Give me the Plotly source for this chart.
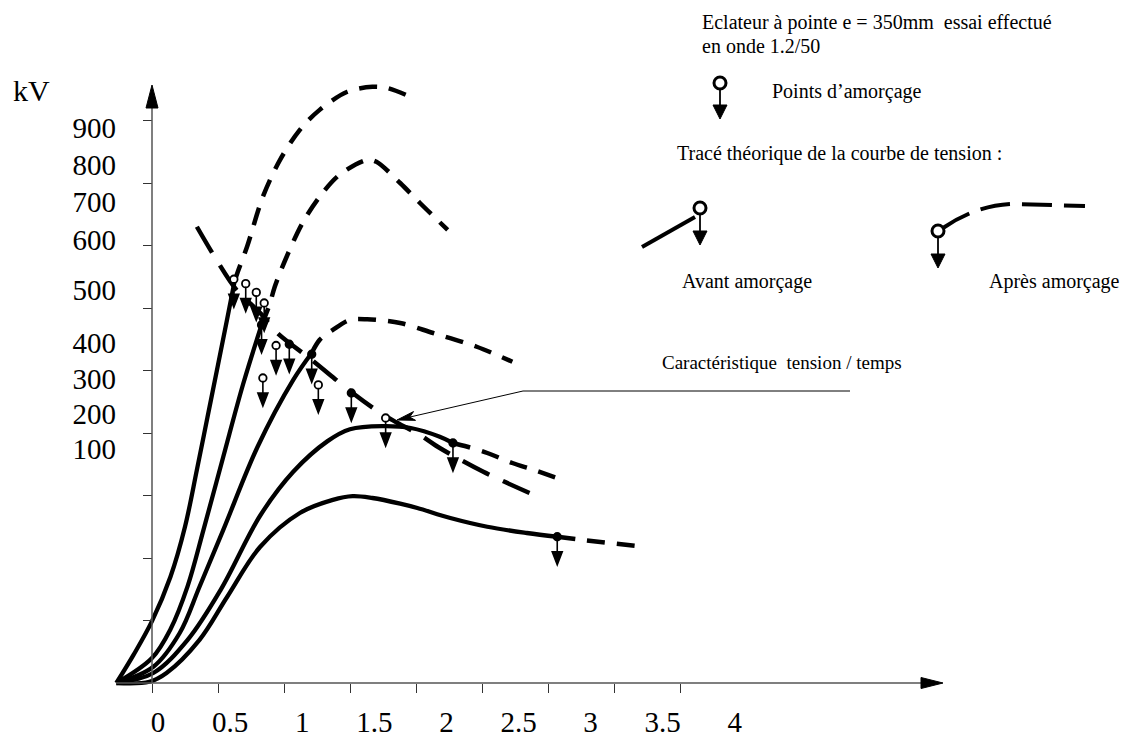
import math
import plotly.graph_objects as go

# ---------------- data : time (µs) / voltage (kV) ----------------
X_TICKS = [0, 0.5, 1, 1.5, 2, 2.5, 3, 3.5, 4]
X_TICK_TEXT = ["0", "0.5", "1", "1.5", "2", "2.5", "3", "3.5", "4"]
Y_TICKS = [100, 200, 300, 400, 500, 600, 700, 800, 900]
Y_TICK_TEXT = ["900", "800", "700", "600", "500", "400", "300", "200", "100"]
# where the (hand placed) voltage labels sit, in kV units
Y_TICK_TEXT_POS = [888, 829, 770, 709, 629, 544, 486, 430, 374]

# measured wave shapes (solid = before breakdown)
c1_t = [-0.27, -0.14, 0.00, 0.14, 0.25, 0.34, 0.42, 0.50, 0.57, 0.625]
c1_v = [0, 45, 99, 170, 250, 341, 425, 509, 583, 642]
c2_t = [-0.27, 0.00, 0.14, 0.27, 0.39, 0.54, 0.69, 0.83]
c2_v = [0, 40, 86, 155, 245, 362, 478, 573]
c3_t = [-0.27, 0.01, 0.21, 0.36, 0.54, 0.80, 1.07, 1.21]
c3_v = [0, 26, 80, 154, 245, 378, 485, 528]
c4_t = [-0.27, 0.01, 0.27, 0.52, 0.82, 1.07, 1.33, 1.50, 1.75, 1.96, 2.18, 2.28]
c4_v = [0, 16, 69, 149, 268, 338, 387, 406, 411, 408, 394, 384]
c5_t = [-0.27, -0.02, 0.11, 0.36, 0.57, 0.82, 1.12, 1.37, 1.52, 1.67, 1.88, 2.01, 2.26, 2.54, 2.84, 3.07]
c5_v = [0, 2, 16, 69, 138, 218, 272, 293, 299, 296, 287, 280, 264, 250, 240, 234]

# theoretical continuation (dashed = after breakdown)
d1_t = [0.625, 0.65, 0.72, 0.84, 0.97, 1.12, 1.27, 1.48, 1.67, 1.78, 1.98]
d1_v = [642, 658, 698, 778, 837, 885, 917, 946, 954, 952, 936]
d2_t = [0.83, 0.89, 0.93, 1.02, 1.14, 1.27, 1.42, 1.63, 1.70, 1.88, 2.03, 2.24]
d2_v = [573, 605, 634, 682, 736, 778, 813, 837, 834, 800, 768, 725]
d3_t = [1.21, 1.27, 1.37, 1.50, 1.63, 1.88, 2.13, 2.46, 2.73]
d3_v = [528, 549, 565, 581, 582, 576, 560, 538, 514]
d4_t = [2.28, 2.39, 2.54, 2.73, 2.89, 3.11]
d4_v = [384, 378, 368, 352, 341, 325]
d5_t = [3.07, 3.22, 3.68]
d5_v = [234, 230, 219]

# voltage / time characteristic
char_t = [0.34, 0.48, 0.64, 0.82, 0.95, 1.21, 1.52, 1.73, 1.86, 2.03, 2.18, 2.51, 2.86]
char_v = [730, 680, 629, 592, 560, 517, 464, 432, 416, 397, 376, 338, 304]

# breakdown points
bp_t = [0.62, 0.71, 0.79, 0.85, 0.83, 0.94, 1.04, 1.21, 0.84, 1.26, 1.51, 1.77, 2.28, 3.07]
bp_v = [646, 639, 625, 608, 573, 540, 542, 526, 488, 477, 464, 424, 384, 234]
bp_filled = [False, False, False, False, True, False, True, True, False, False, True, False, True, True]

# ---------------- layout constants ----------------
W, H = 1130, 736
OFF = 8                              # page body margin of the html page
X0_PX, PX_PER_US = 152, 132.0       # x=0 position (window px), px per µs
Y0_PX, PX_PER_KV = 683, 0.625       # y=0 position (window px), px per kV
LAB_X0_PX, LAB_PX_PER_US = 158, 144.2
FONT = "Liberation Serif"


def fx(p):
    return (p - OFF) / W


def fy(p):
    return 1 - (p - OFF) / H


fig = go.Figure()

solid = dict(color="black", width=4.3, shape="spline", smoothing=1.0)
dashed = dict(color="black", width=4.5, dash="18px,12px", shape="spline", smoothing=0.9)

for t, v in [(c1_t, c1_v), (c2_t, c2_v), (c3_t, c3_v), (c4_t, c4_v), (c5_t, c5_v)]:
    fig.add_trace(go.Scatter(x=t, y=v, mode="lines", line=solid, hoverinfo="skip"))
for t, v in [(d1_t, d1_v), (d2_t, d2_v), (d3_t, d3_v), (d4_t, d4_v), (d5_t, d5_v)]:
    fig.add_trace(go.Scatter(x=t, y=v, mode="lines", line=dashed, hoverinfo="skip"))
fig.add_trace(go.Scatter(x=char_t, y=char_v, mode="lines", hoverinfo="skip",
                         line=dict(color="black", width=4.5, dash="30px,15px",
                                   shape="spline", smoothing=0.9)))

# breakdown markers: arrow glyph + circle
shapes = []
for t, v in zip(bp_t, bp_v):
    shapes.append(dict(type="path", xref="x", yref="y", xsizemode="pixel", ysizemode="pixel",
                       xanchor=t, yanchor=v,
                       path="M0,-3 L0,-16 M-5,-15 L5,-15 L0,-28 Z",
                       line=dict(color="black", width=1.6), fillcolor="black"))
fig.add_trace(go.Scatter(x=bp_t, y=bp_v, mode="markers", hoverinfo="skip",
                         marker=dict(symbol="circle", size=7.5,
                                     color=["black" if f else "white" for f in bp_filled],
                                     line=dict(color="black", width=1.8))))

# helper traces so that the label-only axes are drawn
fig.add_trace(go.Scatter(x=[0], y=[0], xaxis="x2", yaxis="y", mode="markers",
                         marker=dict(opacity=0), hoverinfo="skip"))
fig.add_trace(go.Scatter(x=[0], y=[0], xaxis="x", yaxis="y2", mode="markers",
                         marker=dict(opacity=0), hoverinfo="skip"))

# axis lines and arrow heads
ax_col = "#555555"
shapes += [
    dict(type="line", xref="paper", yref="paper", x0=fx(X0_PX), x1=fx(X0_PX),
         y0=fy(Y0_PX), y1=fy(100), line=dict(color=ax_col, width=1.5)),
    dict(type="path", xref="paper", yref="paper",
         path=f"M{fx(146)},{fy(108)} L{fx(152)},{fy(85)} L{fx(158)},{fy(108)} Z",
         fillcolor="black", line=dict(color="black", width=1)),
    dict(type="line", xref="paper", yref="paper", x0=fx(116), x1=fx(925),
         y0=fy(Y0_PX), y1=fy(Y0_PX), line=dict(color=ax_col, width=1.5)),
    dict(type="path", xref="paper", yref="paper",
         path=f"M{fx(921)},{fy(677.5)} L{fx(943)},{fy(Y0_PX)} L{fx(921)},{fy(688.5)} Z",
         fillcolor="black", line=dict(color="black", width=1)),
]


# legend glyphs (paper coordinates)
def circle(cx, cy, r=6):
    return dict(type="circle", xref="paper", yref="paper",
                x0=fx(cx - r), x1=fx(cx + r), y0=fy(cy + r), y1=fy(cy - r),
                line=dict(color="black", width=3), fillcolor="white")


def down_arrow(cx, y_from, y_tip):
    return [dict(type="line", xref="paper", yref="paper", x0=fx(cx), x1=fx(cx),
                 y0=fy(y_from), y1=fy(y_tip - 12), line=dict(color="black", width=1.8)),
            dict(type="path", xref="paper", yref="paper",
                 path=f"M{fx(cx-7)},{fy(y_tip-14)} L{fx(cx+7)},{fy(y_tip-14)} L{fx(cx)},{fy(y_tip)} Z",
                 fillcolor="black", line=dict(color="black", width=1))]


shapes += down_arrow(720, 89, 119) + [circle(720, 83)]
shapes += [dict(type="line", xref="paper", yref="paper", x0=fx(642), y0=fy(247),
                x1=fx(695), y1=fy(217), line=dict(color="black", width=4))]
shapes += down_arrow(700, 214, 245) + [circle(700, 208)]
shapes += [dict(type="path", xref="paper", yref="paper",
                path=f"M{fx(943)},{fy(228)} Q{fx(975)},{fy(206)} {fx(1010)},{fy(204)} L{fx(1085)},{fy(206)}",
                line=dict(color="black", width=4, dash="30px,12px"))]
shapes += down_arrow(938, 237, 268) + [circle(938, 231)]

# call-out for the characteristic
tip = (397, 420)
tail = (523, 391)
shapes.append(dict(type="line", xref="paper", yref="paper", x0=fx(tail[0]), y0=fy(tail[1]),
                   x1=fx(850), y1=fy(tail[1]), line=dict(color="black", width=1)))
shapes.append(dict(type="line", xref="paper", yref="paper", x0=fx(tail[0]), y0=fy(tail[1]),
                   x1=fx(tip[0] + 10), y1=fy(tip[1] - 2.3), line=dict(color="black", width=1)))
dx, dy = tail[0] - tip[0], tail[1] - tip[1]
L = math.hypot(dx, dy)
ux, uy = dx / L, dy / L
px_, py_ = -uy, ux
bx, by = tip[0] + 18 * ux, tip[1] + 18 * uy
nx, ny = tip[0] + 13 * ux, tip[1] + 13 * uy
shapes.append(dict(type="path", xref="paper", yref="paper",
                   path=(f"M{fx(tip[0])},{fy(tip[1])} L{fx(bx + 4.5*px_)},{fy(by + 4.5*py_)} "
                         f"L{fx(nx)},{fy(ny)} L{fx(bx - 4.5*px_)},{fy(by - 4.5*py_)} Z"),
                   fillcolor="black", line=dict(color="black", width=1)))


# texts
def txt(s, x, y, size=20, anchor="left"):
    return dict(text=s, xref="paper", yref="paper", x=fx(x), y=fy(y), xanchor=anchor,
                yanchor="middle", showarrow=False, font=dict(family=FONT, size=size, color="black"))


annotations = [
    txt("kV", 31, 90, size=30, anchor="center"),
    txt("Eclateur à pointe e = 350mm\u00a0 essai effectué", 700, 22),
    txt("en onde 1.2/50", 700, 46),
    txt("Points d\u2019amorçage", 770, 92),
    txt("Tracé théorique de la courbe de tension :", 675, 153),
    txt("Avant amorçage", 680, 281),
    txt("Après amorçage", 987, 282),
    txt("Caractéristique\u00a0 tension / temps", 660, 362, size=19),
]

x_lo = -(X0_PX - OFF) / PX_PER_US
y_lo = (Y0_PX - OFF - H) / PX_PER_KV
fig.update_layout(
    width=W, height=H, margin=dict(l=0, r=0, t=0, b=0),
    paper_bgcolor="white", plot_bgcolor="white", showlegend=False,
    xaxis=dict(range=[x_lo, x_lo + W / PX_PER_US], domain=[0, 1], anchor="free",
               position=fy(Y0_PX), tickvals=X_TICKS, ticks="outside", ticklen=9,
               tickwidth=1, tickcolor="#333", showticklabels=False, showline=False,
               showgrid=False, zeroline=False, fixedrange=True),
    yaxis=dict(range=[y_lo, y_lo + H / PX_PER_KV], domain=[0, 1], anchor="free",
               position=fx(X0_PX), tickvals=Y_TICKS, ticks="outside", ticklen=9,
               tickwidth=1, tickcolor="#333", showticklabels=False, showline=False,
               showgrid=False, zeroline=False, fixedrange=True),
    xaxis2=dict(range=[-(LAB_X0_PX - OFF) / LAB_PX_PER_US, (W + OFF - LAB_X0_PX) / LAB_PX_PER_US],
                overlaying="x", anchor="free", position=fy(702), tickvals=X_TICKS,
                ticktext=X_TICK_TEXT, ticks="", showline=False, showgrid=False,
                zeroline=False, tickfont=dict(family=FONT, size=29, color="black")),
    yaxis2=dict(range=[y_lo, y_lo + H / PX_PER_KV], overlaying="y", anchor="free",
                position=fx(116), tickvals=Y_TICK_TEXT_POS, ticktext=Y_TICK_TEXT,
                ticks="", showline=False, showgrid=False, zeroline=False,
                tickfont=dict(family=FONT, size=29, color="black")),
    shapes=shapes, annotations=annotations,
)

fig.write_html("out.html")
